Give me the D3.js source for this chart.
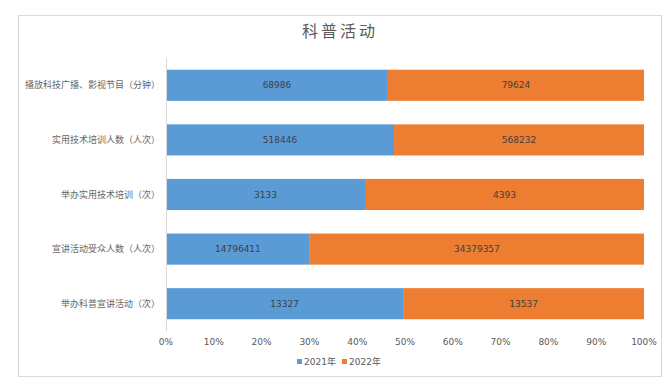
<!DOCTYPE html>
<html>
<head>
<meta charset="utf-8">
<script src="https://cdn.jsdelivr.net/npm/d3@7"></script>
<style>
  body { margin: 0; background: #fff; }
  svg text { font-family: "DejaVu Sans", "Noto Sans CJK SC", sans-serif; }
</style>
</head>
<body>
<script>
const categories = ['播放科技广播、影视节目（分钟）', '实用技术培训人数（人次）', '举办实用技术培训（次）', '宣讲活动受众人数（人次）', '举办科普宣讲活动（次）'];
const seriesNames = ['2021年', '2022年'];
const values2021 = [68986, 518446, 3133, 14796411, 13327];
const values2022 = [79624, 568232, 4393, 34379357, 13537];
const tickValues = [0, 0.1, 0.2, 0.3, 0.4, 0.5, 0.6, 0.7, 0.8, 0.9, 1];
const colors = ['#5b9bd5', '#ed7d31'];

const w = 672, h = 386;
const svg = d3.select('body').append('svg')
              .attr('width', w)
              .attr('height', h)

// outer chart border
svg.append('rect')
   .attr('x', 18.5).attr('y', 15.5)
   .attr('width', 643).attr('height', 361)
   .attr('fill', '#fff')
   .attr('stroke', '#d9d9d9')

svg.append('text')
   .attr('x', 340).attr('y', 37)
   .attr('text-anchor', 'middle')
   .attr('fill', '#595959')
   .style('font-size', '16px')
   .style('letter-spacing', '3px')
   .style('font-family', '"Noto Sans CJK SC", sans-serif')
   .text('科普活动')

const rows = categories.map((c, i) => {
  const total = values2021[i] + values2022[i];
  return {cat: c, v: [values2021[i], values2022[i]], p: [values2021[i] / total, values2022[i] / total]};
});

const x = d3.scaleLinear().domain([0, 1]).range([166, 644]);
const y = d3.scaleBand().domain(categories).range([58, 331]).paddingInner(0.43).paddingOuter(0.215);

// x axis labels
svg.append('g')
   .selectAll('text')
   .data(tickValues)
   .enter()
   .append('text')
   .attr('x', d => x(d))
   .attr('y', 345)
   .attr('text-anchor', 'middle')
   .attr('fill', '#595959')
   .style('font-size', '9px')
   .text(d3.format('.0%'))

// category labels
svg.append('g')
   .selectAll('text')
   .data(categories)
   .enter()
   .append('text')
   .attr('x', 160)
   .attr('y', d => y(d) + y.bandwidth() / 2 + 3)
   .attr('text-anchor', 'end')
   .attr('fill', '#666')
   .style('font-size', '9px')
   .style('font-family', '"Noto Sans CJK SC", sans-serif')
   .text(d => d)

const bars = svg.append('g')
rows.forEach(r => {
  let start = 0;
  r.p.forEach((p, j) => {
    const x0 = x(start), x1 = x(start + p);
    bars.append('rect')
        .attr('x', x0)
        .attr('y', y(r.cat))
        .attr('width', x1 - x0)
        .attr('height', y.bandwidth())
        .attr('fill', colors[j])
    bars.append('text')
        .attr('x', (x0 + x1) / 2)
        .attr('y', y(r.cat) + y.bandwidth() / 2 + 3)
        .attr('text-anchor', 'middle')
        .attr('fill', '#404040')
        .style('font-size', '9px')
        .text(r.v[j])
    start += p;
  });
});

// vertical axis line
svg.append('line')
   .attr('x1', 166.5).attr('x2', 166.5)
   .attr('y1', 58).attr('y2', 331)
   .attr('stroke', '#d9d9d9')

// legend
const legend = svg.append('g')
const lx = [297, 342];
seriesNames.forEach((s, i) => {
  legend.append('rect')
        .attr('x', lx[i]).attr('y', 359)
        .attr('width', 5).attr('height', 5)
        .attr('fill', colors[i])
  legend.append('text')
        .attr('x', lx[i] + 7).attr('y', 365)
        .attr('fill', '#595959')
        .style('font-size', '9px')
        .text(s)
});
</script>
</body>
</html>
